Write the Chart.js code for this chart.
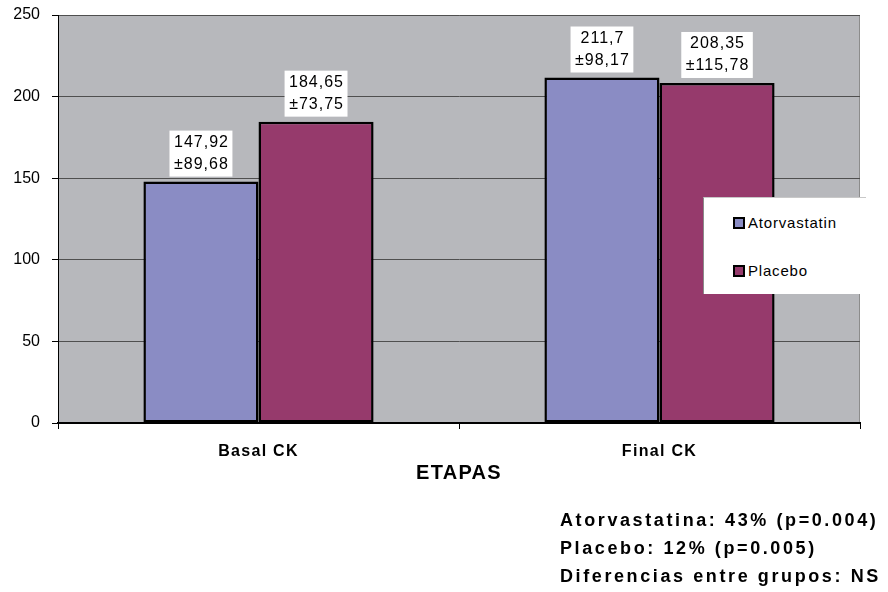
<!DOCTYPE html>
<html>
<head>
<meta charset="utf-8">
<script src="https://cdn.jsdelivr.net/npm/chart.js@4"></script>
<style>
  html, body { margin: 0; padding: 0; background: #fff; }
  #wrap { position: relative; width: 888px; height: 592px; font-family: "Liberation Sans", Arial, sans-serif; }
  #legend {
    position: absolute; left: 703px; top: 197px; width: 163px; height: 97px;
    background: #fff; border-left: 1px solid #8a8a8a; border-top: 1px solid #c8c8c8;
    box-sizing: border-box;
  }
  .leg-item { position: absolute; left: 29px; font-size: 15px; letter-spacing: 0.8px; color: #000; line-height: 18px; }
  .leg-box { display: inline-block; width: 8px; height: 8px; border: 2px solid #000; margin-right: 3px; vertical-align: -1px; }
  #notes {
    position: absolute; left: 560px; top: 506px; font-size: 18px; font-weight: bold;
    letter-spacing: 2.6px; line-height: 28px; color: #000; white-space: nowrap;
  }
</style>
</head>
<body>
<div id="wrap">
  <canvas id="chart" width="888" height="592"></canvas>
  <div id="legend"></div>
  <div id="notes"></div>
</div>
<script>
/* --- Datos --- */
const categories     = ['Basal CK', 'Final CK'];
const seriesNames    = ['Atorvastatin', 'Placebo'];
const atorvastatin   = [147.92, 211.7];
const atorvastatinSD = [89.68, 98.17];
const placebo        = [184.65, 208.35];
const placeboSD      = [73.75, 115.78];
const yTicks         = [0, 50, 100, 150, 200, 250];
const notes = [
  'Atorvastatina: 43% (p=0.004)',
  'Placebo: 12% (p=0.005)',
  'Diferencias entre grupos: NS',
];

const COLORS = ['#8a8cc4', '#963a6c'];
const FONT = '"Liberation Sans", Arial, sans-serif';
const fmtNum = v => String(v).replace('.', ',');

/* --- Fondo gris del área de trazado --- */
const plotBg = {
  id: 'plotBg',
  beforeDraw(chart) {
    const { ctx, chartArea: a } = chart;
    ctx.save();
    ctx.fillStyle = '#b7b8bc';
    ctx.fillRect(a.left, a.top, a.right - a.left, a.bottom - a.top);
    ctx.strokeStyle = '#8c8c8c';
    ctx.lineWidth = 1;
    ctx.beginPath();
    ctx.moveTo(a.left, a.top + 0.5);
    ctx.lineTo(a.right - 0.5, a.top + 0.5);
    ctx.lineTo(a.right - 0.5, a.bottom);
    ctx.stroke();
    ctx.restore();
  },
  afterDatasetsDraw(chart) {
    /* el eje X se dibuja después (z: 1) con espaciado de letras */
    chart.ctx.letterSpacing = '1.3px';
  },
  afterDraw(chart) {
    chart.ctx.letterSpacing = '0px';
  },
};

/* --- Etiquetas de valor ± DE en cajas blancas --- */
const valueBoxes = {
  id: 'valueBoxes',
  afterDatasetsDraw(chart) {
    const { ctx } = chart;
    const sds = [atorvastatinSD, placeboSD];
    ctx.save();
    ctx.font = '16px ' + FONT;
    ctx.letterSpacing = '1px';
    ctx.textAlign = 'center';
    ctx.textBaseline = 'middle';
    chart.data.datasets.forEach((ds, di) => {
      chart.getDatasetMeta(di).data.forEach((bar, i) => {
        const l1 = fmtNum(ds.data[i]);
        const l2 = '±' + fmtNum(sds[di][i]);
        const w = Math.max(ctx.measureText(l1).width, ctx.measureText(l2).width) + 8;
        const h = 46;
        const bottom = bar.y - 5;
        ctx.fillStyle = '#fff';
        ctx.fillRect(bar.x - w / 2, bottom - h, w, h);
        ctx.fillStyle = '#000';
        ctx.fillText(l1, bar.x + 0.5, bottom - h + 12);
        ctx.fillText(l2, bar.x + 0.5, bottom - h + 34);
      });
    });
    ctx.restore();
  },
};

new Chart(document.getElementById('chart'), {
  type: 'bar',
  data: {
    labels: categories,
    datasets: [
      { label: seriesNames[0], data: atorvastatin, backgroundColor: COLORS[0] },
      { label: seriesNames[1], data: placebo,      backgroundColor: COLORS[1] },
    ].map(d => ({ ...d, borderColor: '#000', borderWidth: 2.5, borderSkipped: false,
                  categoryPercentage: 0.574, barPercentage: 1 })),
  },
  options: {
    responsive: false,
    animation: false,
    events: [],
    layout: { padding: { left: 0, right: 28, top: 15, bottom: 107 } },
    plugins: { legend: { display: false }, tooltip: { enabled: false } },
    scales: {
      x: {
        grid: { drawOnChartArea: false, drawTicks: true, tickLength: 6, color: '#000', z: 1 },
        border: { color: '#000', width: 2, z: 1 },
        ticks: { color: '#000', padding: 13, z: 1, font: { family: FONT, size: 16, weight: 'bold' } },
        title: {
          display: true, text: 'ETAPAS', color: '#000',
          font: { family: FONT, size: 20, weight: 'bold' }, padding: { top: 0, bottom: 0 },
        },
        afterFit: s => { s.height = 62; s.paddingLeft = 0; s.paddingRight = 0; },
      },
      y: {
        min: 0, max: 250,
        afterBuildTicks: s => { s.ticks = yTicks.map(v => ({ value: v })); },
        grid: { color: '#4f4f4f', tickColor: '#000', tickLength: 6, lineWidth: 1 },
        border: { color: '#000', width: 1 },
        ticks: { color: '#000', padding: 12, font: { family: FONT, size: 16 } },
        afterFit: s => { s.width = 58; s.paddingTop = 0; s.paddingBottom = 0; },
      },
    },
  },
  plugins: [plotBg, valueBoxes],
});

/* --- Leyenda y notas --- */
document.getElementById('legend').innerHTML = seriesNames.map((n, i) => `
  <div class="leg-item" style="top:${16 + i * 48}px;">
    <span class="leg-box" style="background:${COLORS[i]};"></span>${n}
  </div>`).join('');
document.getElementById('notes').innerHTML = notes.map(t => `<div>${t}</div>`).join('');
</script>
</body>
</html>
